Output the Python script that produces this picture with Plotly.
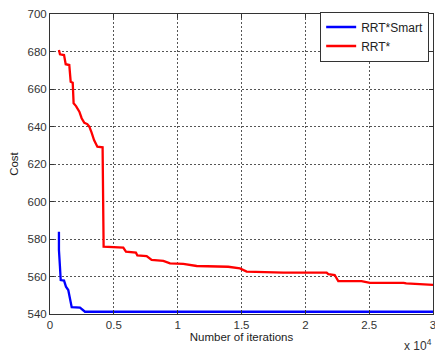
import plotly.graph_objects as go

# RRT* cost trace (iterations, cost)
rrt_iter = [700, 780, 1100, 1230, 1510, 1620, 1780, 1850, 2040, 2300, 2480, 2690, 2920, 3080,
            3260, 3450, 3710, 4120, 4180, 4200, 5740, 5950, 6730, 6840, 7570, 7960, 8880,
            9400, 10440, 11490, 13960, 14880, 15400, 18270, 21670, 21800, 22300, 22580,
            24400, 25060, 27700, 27900, 30000]
rrt_cost = [680.8, 678.5, 678.1, 673.2, 672.8, 663.9, 663.4, 652.4, 650.9, 647.9, 644.4, 642.0,
            641.3, 639.9, 636.7, 632.8, 629.2, 628.9, 589.2, 575.9, 575.4, 573.2, 572.7, 571.3,
            570.9, 568.8, 568.3, 567.0, 566.7, 565.6, 565.2, 564.3, 562.6, 562.1, 562.1, 561.3,
            560.8, 557.6, 557.5, 556.6, 556.6, 556.3, 555.5]

# RRT*Smart cost trace
smart_iter = [700, 700, 780, 840, 1100, 1250, 1430, 1570, 1700, 2350, 2610, 2740, 30000]
smart_cost = [583.9, 574.1, 565.2, 558.1, 557.8, 554.6, 552.8, 547.5, 543.6, 543.4, 542.1, 541.2, 541.2]

x_ticks = [0, 5000, 10000, 15000, 20000, 25000, 30000]
x_tick_text = ["0", "0.5", "1", "1.5", "2", "2.5", "3"]
y_ticks = [540, 560, 580, 600, 620, 640, 660, 680, 700]

FONT = "Liberation Sans, Arial"

fig = go.Figure()
fig.add_trace(go.Scatter(x=smart_iter, y=smart_cost, mode="lines", name="RRT*Smart",
                         line=dict(color="#0000ff", width=2.3)))
fig.add_trace(go.Scatter(x=rrt_iter, y=rrt_cost, mode="lines", name="RRT*",
                         line=dict(color="#ff0000", width=2.3)))

axis_common = dict(showline=True, linecolor="#333333", linewidth=1, mirror="ticks",
                   ticks="inside", ticklen=4, tickcolor="#333333", automargin=False,
                   ticklabeloverflow="allow",
                   showgrid=True, gridcolor="#555555", griddash="2px,2px", gridwidth=1,
                   zeroline=False, tickfont=dict(family=FONT, size=11.5, color="#333333"))

fig.update_xaxes(range=[0, 30000], tickvals=x_ticks, ticktext=x_tick_text,
                 title=dict(text="Number of iterations", standoff=2,
                            font=dict(family=FONT, size=11.5, color="#222222")),
                 **axis_common)
fig.update_yaxes(range=[540, 700], tickvals=y_ticks,
                 title=dict(text="Cost", standoff=6,
                            font=dict(family=FONT, size=11.5, color="#222222")),
                 **axis_common)

fig.add_annotation(text="x 10<sup>4</sup>", xref="paper", yref="paper", x=1.003, y=-0.07,
                   xanchor="right", yanchor="top", showarrow=False,
                   font=dict(family=FONT, size=12, color="#333333"))

fig.update_layout(
    width=435, height=352,
    margin=dict(l=50, r=2, t=14, b=38, autoexpand=False),
    plot_bgcolor="white", paper_bgcolor="white",
    showlegend=True,
    legend=dict(x=0.99, y=0.925, xanchor="right", yanchor="middle",
                bgcolor="white", bordercolor="#333333", borderwidth=1,
                font=dict(family=FONT, size=12, color="#222222"),
                tracegroupgap=0, itemwidth=30),
)

fig.write_html("out.html", config={"displayModeBar": False},
               post_script="document.body.style.margin='0';document.body.style.overflow='hidden';")
